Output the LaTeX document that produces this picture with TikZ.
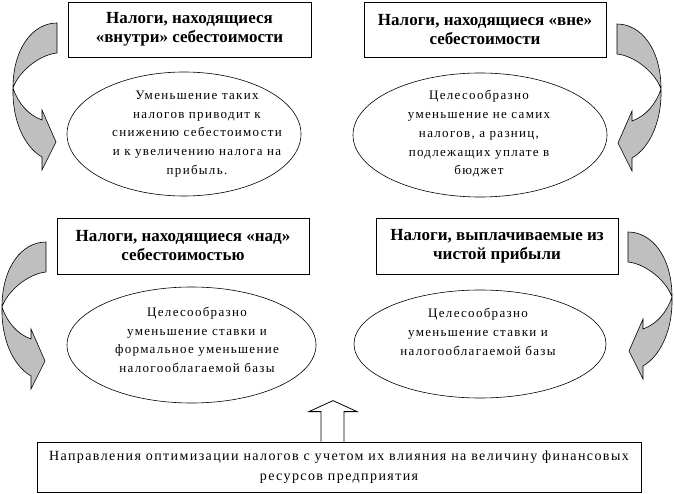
\documentclass[tikz,border=0pt]{standalone}
\usepackage{fontspec}
\setmainfont{Liberation Serif}
\newfontfamily\spacedserif[LetterSpace=10]{Liberation Serif}
\usetikzlibrary{shapes.geometric}

\tikzset{
  headbox/.style={draw,line width=0.8pt,align=center,inner sep=0pt,
    font=\bfseries\fontsize{17}{19}\selectfont},
  oval/.style={draw,ellipse,line width=0.6pt,inner sep=0pt},
  ovaltext/.style={align=center,font=\spacedserif\fontsize{13}{18.7}\selectfont},
  arrowfill/.style={fill=gray!50,draw=black,line width=0.6pt},
  bend arrow/.pic={
    \filldraw[arrowfill] (44,-65) .. controls (20,-65) and (0,-40) .. (0,0)
      .. controls (-1,30) and (10,58) .. (29,69) -- (29,82) -- (43,54)
      -- (29,22) -- (29,32) .. controls (15,27) and (5,15) .. (0,0)
      .. controls (5,-15) and (25,-33) .. (44,-35) -- cycle;
  }
}

\begin{document}
\begin{tikzpicture}[x=1pt,y=-1pt]
  \useasboundingbox (0,0) rectangle (674,494);
  % headings
  \node[headbox,minimum width=243,minimum height=55] (inside) at (189.5,29.5) {Налоги, находящиеся\\«внутри» себестоимости};
  \node[headbox,minimum width=242,minimum height=55] (outside) at (485,29.5) {Налоги, находящиеся «вне»\\себестоимости};
  \node[headbox,minimum width=252,minimum height=56] (above) at (183,246) {Налоги, находящиеся «над»\\себестоимостью};
  \node[headbox,minimum width=242,minimum height=56] (profit) at (497,246) {Налоги, выплачиваемые из\\чистой прибыли};
  % ovals
  \node[oval,minimum width=234,minimum height=124] (e1) at (184,134) {};
  \node[oval,minimum width=254,minimum height=124] (e2) at (480,135) {};
  \node[oval,minimum width=249,minimum height=116] (e3) at (191.5,345) {};
  \node[oval,minimum width=252,minimum height=108] (e4) at (480,344) {};
  \node[ovaltext] (t1) at (197,134) {Уменьшение таких\\налогов приводит к\\снижению себестоимости\\и к увеличению налога на\\прибыль.};
  \node[ovaltext] (t2) at (479,134) {Целесообразно\\уменьшение не самих\\налогов, а разниц,\\подлежащих уплате в\\бюджет};
  \node[ovaltext] (t3) at (197,340) {Целесообразно\\уменьшение ставки и\\формальное уменьшение\\налогооблагаемой базы};
  \node[ovaltext] (t4) at (478,332) {Целесообразно\\уменьшение ставки и\\налогооблагаемой базы};
  % bottom
  \node[draw,line width=0.8pt,minimum width=604,minimum height=50,align=center,inner sep=0pt,
    font=\spacedserif\fontsize{14}{20}\selectfont] (bottom) at (339,467)
    {Направления оптимизации налогов с учетом их влияния на величину финансовых\\ресурсов предприятия};
  \draw[line width=0.8pt,fill=white,shift={(bottom.north)}] (-18,0) -- (-18,-30) -- (-30,-30)
    -- (-6,-41) -- (18,-30) -- (5,-30) -- (5,0);
  % curved arrows
  \pic at (13,88) {bend arrow};
  \pic[xscale=-1] at (661,89) {bend arrow};
  \pic at (2,307) {bend arrow};
  \pic[xscale=-1] at (672,297) {bend arrow};
\end{tikzpicture}
\end{document}
